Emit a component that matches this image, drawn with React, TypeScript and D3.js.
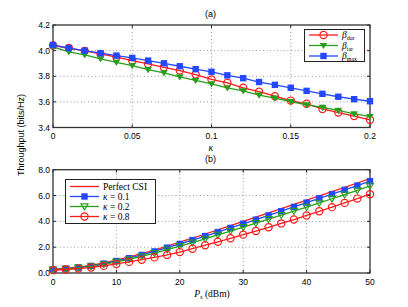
import React from "react";
import * as d3 from "d3";

// (a) throughput vs kappa
const kappa = [0, 0.01, 0.02, 0.03, 0.04, 0.05, 0.06, 0.07, 0.08, 0.09, 0.1,
  0.11, 0.12, 0.13, 0.14, 0.15, 0.16, 0.17, 0.18, 0.19, 0.2];
const betaDur = [4.04, 4.02, 3.998, 3.974, 3.95, 3.922, 3.896, 3.87, 3.844, 3.813, 3.775,
  3.749, 3.71, 3.68, 3.644, 3.61, 3.585, 3.545, 3.517, 3.489, 3.46];
const betaTar = [4.03, 3.99, 3.966, 3.935, 3.909, 3.883, 3.852, 3.826, 3.795, 3.767, 3.74,
  3.71, 3.686, 3.652, 3.629, 3.603, 3.577, 3.557, 3.533, 3.507, 3.486];
const betaMax = [4.044, 4.02, 4.0, 3.98, 3.961, 3.943, 3.922, 3.901, 3.878, 3.855, 3.835,
  3.807, 3.785, 3.755, 3.733, 3.71, 3.686, 3.663, 3.64, 3.621, 3.605];
const kappaTicks = [0, 0.05, 0.1, 0.15, 0.2];
const kappaTickLabels = ["0", "0.05", "0.1", "0.15", "0.2"];
const thrTicksA = [3.4, 3.6, 3.8, 4.0, 4.2];

// (b) throughput vs Ps
const ps = [0, 2, 4, 6, 8, 10, 12, 14, 16, 18, 20, 22, 24, 26, 28, 30, 32, 34, 36, 38, 40, 42, 44, 46, 48, 50];
const perfectCsi = [0.28, 0.36, 0.46, 0.59, 0.78, 1.0, 1.24, 1.5, 1.78, 2.08, 2.39, 2.7, 3.02,
  3.34, 3.66, 3.99, 4.32, 4.65, 4.98, 5.31, 5.64, 5.97, 6.3, 6.63, 6.97, 7.3];
const k01 = [0.27, 0.34, 0.43, 0.55, 0.73, 0.93, 1.15, 1.4, 1.67, 1.96, 2.25, 2.55, 2.86,
  3.17, 3.49, 3.81, 4.13, 4.46, 4.79, 5.12, 5.45, 5.78, 6.11, 6.44, 6.77, 7.11];
const k02 = [0.26, 0.32, 0.41, 0.52, 0.67, 0.86, 1.06, 1.29, 1.54, 1.81, 2.08, 2.36, 2.65,
  2.95, 3.25, 3.55, 3.86, 4.17, 4.48, 4.8, 5.11, 5.43, 5.75, 6.07, 6.4, 6.75];
const k08 = [0.22, 0.27, 0.34, 0.43, 0.55, 0.7, 0.86, 1.03, 1.21, 1.4, 1.62, 1.88, 2.15,
  2.42, 2.69, 2.97, 3.25, 3.54, 3.84, 4.14, 4.46, 4.78, 5.1, 5.43, 5.76, 6.1];
const psTicks = [0, 10, 20, 30, 40, 50];
const thrTicksB = [0, 2, 4, 6, 8];

const RED = "#ff1a1a";
const GREEN = "#279e1c";
const BLUE = "#2348ff";
const sans = "Liberation Sans, Arial, sans-serif";
const serif = "Liberation Serif, DejaVu Serif, serif";

function Marker({ kind, x, y, color }: { kind: string; x: number; y: number; color: string }) {
  if (kind === "circle") return <circle cx={x} cy={y} r={3.6} fill="none" stroke={color} strokeWidth={1.2} />;
  if (kind === "square") return <rect x={x - 3.2} y={y - 3.2} width={6.4} height={6.4} fill={color} />;
  if (kind === "tri") return <path d={`M${x - 3.8},${y - 2.6}L${x + 3.8},${y - 2.6}L${x},${y + 3.6}Z`} fill={color} />;
  if (kind === "triOpen") return <path d={`M${x - 3.6},${y - 2.6}L${x + 3.6},${y - 2.6}L${x},${y + 3.4}Z`} fill="none" stroke={color} strokeWidth={1.1} />;
  return null;
}

function Frame({ x, y, xt, yt, xl, yl }: any) {
  const [x0, x1] = x.range();
  const [y0, y1] = y.range();
  return (
    <g>
      {xt.slice(1, -1).map((t: number) => (
        <line key={"gx" + t} x1={x(t)} x2={x(t)} y1={y0} y2={y1} stroke="#999" strokeDasharray="1,2.5" />
      ))}
      {yt.slice(1, -1).map((t: number) => (
        <line key={"gy" + t} x1={x0} x2={x1} y1={y(t)} y2={y(t)} stroke="#999" strokeDasharray="1,2.5" />
      ))}
      {xt.map((t: number, i: number) => (
        <g key={"tx" + t}>
          <line x1={x(t)} x2={x(t)} y1={y0} y2={y0 - 3} stroke="#222" />
          <line x1={x(t)} x2={x(t)} y1={y1} y2={y1 + 3} stroke="#222" />
          <text x={x(t)} y={y0 + 11.5} fontSize={8.5} fontFamily={sans} textAnchor="middle">{xl[i]}</text>
        </g>
      ))}
      {yt.map((t: number, i: number) => (
        <g key={"ty" + t}>
          <line x1={x0} x2={x0 + 3} y1={y(t)} y2={y(t)} stroke="#222" />
          <line x1={x1} x2={x1 - 3} y1={y(t)} y2={y(t)} stroke="#222" />
          <text x={x0 - 3} y={y(t) + 3} fontSize={8.5} fontFamily={sans} textAnchor="end">{yl[i]}</text>
        </g>
      ))}
      <rect x={x0} y={y1} width={x1 - x0} height={y0 - y1} fill="none" stroke="#333" strokeWidth={1.3} />
    </g>
  );
}

function Series({ xs, ys, x, y, color, kind, lw = 1.3 }: any) {
  const line = d3.line<number>().x((_, i) => x(xs[i])).y((d) => y(d));
  return (
    <g>
      <path d={line(ys) || ""} fill="none" stroke={color} strokeWidth={lw} />
      {kind && ys.map((d: number, i: number) => <Marker key={i} kind={kind} x={x(xs[i])} y={y(d)} color={color} />)}
    </g>
  );
}

function LegendRow({ x, y, color, kind, children }: any) {
  return (
    <g>
      <line x1={x} x2={x + 29} y1={y} y2={y} stroke={color} strokeWidth={1.3} />
      {kind && <Marker kind={kind} x={x + 14.5} y={y} color={color} />}
      <text x={x + 33} y={y + 3} fontSize={9.5} fontFamily={serif}>{children}</text>
    </g>
  );
}

export default function App() {
  const xa = d3.scaleLinear().domain([0, 0.2]).range([53, 370]);
  const ya = d3.scaleLinear().domain([3.4, 4.2]).range([127.5, 25]);
  const xb = d3.scaleLinear().domain([0, 50]).range([53, 370]);
  const yb = d3.scaleLinear().domain([0, 8]).range([273, 169.7]);
  const sub = { fontSize: 6, fontStyle: "normal" } as const;

  return (
    <svg width={408} height={307} style={{ position: "absolute", left: 0, top: 0 }}>
      <rect width={408} height={307} fill="#fff" />
      <text x={205} y={17} fontSize={9} fontFamily={sans}>(a)</text>
      <text x={205} y={162} fontSize={9} fontFamily={sans}>(b)</text>
      <text transform="translate(24,135) rotate(-90)" fontSize={9} fontFamily={sans} textAnchor="middle">
        Throughput (bits/Hz)
      </text>

      <Frame x={xa} y={ya} xt={kappaTicks} yt={thrTicksA} xl={kappaTickLabels} yl={thrTicksA.map((d) => d.toFixed(1))} />
      <Series xs={kappa} ys={betaDur} x={xa} y={ya} color={RED} kind="circle" />
      <Series xs={kappa} ys={betaTar} x={xa} y={ya} color={GREEN} kind="tri" />
      <Series xs={kappa} ys={betaMax} x={xa} y={ya} color={BLUE} kind="square" />
      <text x={211} y={150.5} fontSize={10} fontFamily={serif} fontStyle="italic" textAnchor="middle">κ</text>

      <rect x={304.5} y={29.5} width={60} height={32} fill="#fff" stroke="#222" />
      <LegendRow x={309} y={35} color={RED} kind="circle">
        <tspan fontStyle="italic">β</tspan><tspan dy={2} {...sub}>dur</tspan>
      </LegendRow>
      <LegendRow x={309} y={45.5} color={GREEN} kind="tri">
        <tspan fontStyle="italic">β</tspan><tspan dy={2} {...sub}>tar</tspan>
      </LegendRow>
      <LegendRow x={309} y={56} color={BLUE} kind="square">
        <tspan fontStyle="italic">β</tspan><tspan dy={2} {...sub}>max</tspan>
      </LegendRow>

      <Frame x={xb} y={yb} xt={psTicks} yt={thrTicksB} xl={psTicks.map(String)} yl={thrTicksB.map((d) => d.toFixed(1))} />
      <Series xs={ps} ys={perfectCsi} x={xb} y={yb} color={RED} />
      <Series xs={ps} ys={k01} x={xb} y={yb} color={BLUE} kind="square" />
      <Series xs={ps} ys={k02} x={xb} y={yb} color={GREEN} kind="triOpen" />
      <Series xs={ps} ys={k08} x={xb} y={yb} color={RED} kind="circle" />
      <text x={212} y={297} fontSize={9.5} fontFamily={serif} textAnchor="middle">
        <tspan fontStyle="italic">P</tspan><tspan dy={2} fontSize={6.5} fontStyle="italic">s</tspan><tspan dy={-2}> (dBm)</tspan>
      </text>

      <rect x={65.5} y={179.5} width={90} height={44} fill="#fff" stroke="#222" />
      <LegendRow x={70} y={186.5} color={RED}>Perfect CSI</LegendRow>
      <LegendRow x={70} y={196.5} color={BLUE} kind="square">
        <tspan fontStyle="italic">κ</tspan> = 0.1
      </LegendRow>
      <LegendRow x={70} y={206.5} color={GREEN} kind="triOpen">
        <tspan fontStyle="italic">κ</tspan> = 0.2
      </LegendRow>
      <LegendRow x={70} y={216.5} color={RED} kind="circle">
        <tspan fontStyle="italic">κ</tspan> = 0.8
      </LegendRow>
    </svg>
  );
}
